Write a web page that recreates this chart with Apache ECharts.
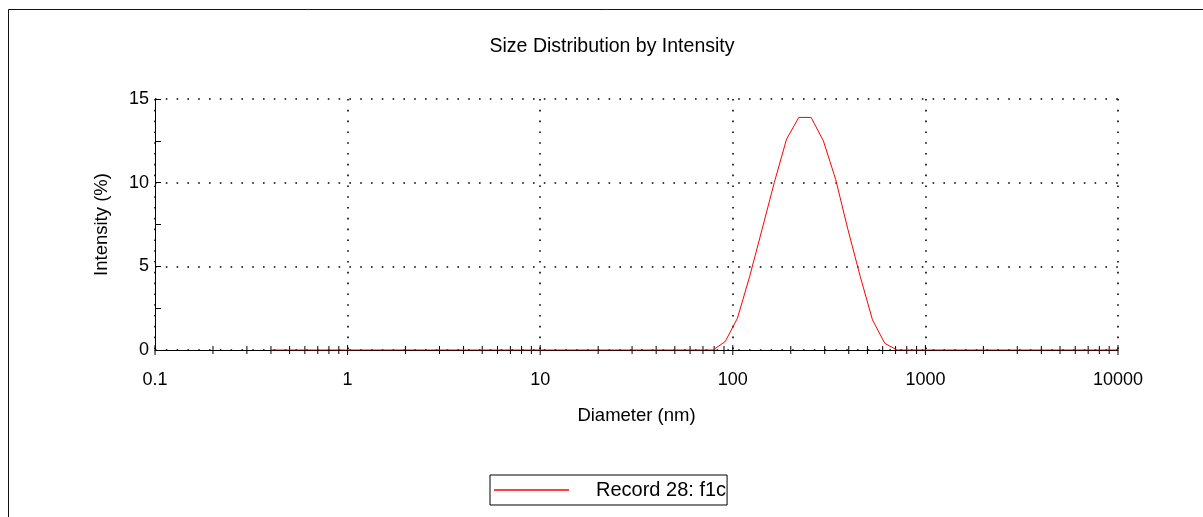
<!DOCTYPE html>
<html>
<head>
<meta charset="utf-8">
<script src="https://cdn.jsdelivr.net/npm/echarts@6/dist/echarts.min.js"></script>
<style>
html,body{margin:0;padding:0;background:#fff;}
#chart{width:1203px;height:517px;}
</style>
</head>
<body>
<div id="chart"></div>
<script>
// ---- data ----
var titleText = 'Size Distribution by Intensity';
var xAxisName = 'Diameter (nm)';
var yAxisName = 'Intensity (%)';
var seriesName = 'Record 28: f1c';
var sizes = [0.4,0.4632,0.5365,0.6213,0.7195,0.8332,0.9649,1.117,1.294,1.499,
  1.736,2.01,2.328,2.696,3.122,3.615,4.187,4.849,5.615,6.503,
  7.531,8.721,10.1,11.7,13.54,15.69,18.17,21.04,24.36,28.21,
  32.67,37.84,43.82,50.75,58.77,68.06,78.82,91.28,105.7,122.4,
  141.8,164.2,190.1,220.2,255.0,295.3,342.0,396.1,458.7,531.2,
  615.1,712.4,825.0,955.4,1106,1281,1484,1718,1990,2305,
  2669,3091,3580,4145,4801,5560,6439,7456,8635,10000];
var intensity = [0,0,0,0,0,0,0,0,0,0,
  0,0,0,0,0,0,0,0,0,0,
  0,0,0,0,0,0,0,0,0,0,
  0,0,0,0,0,0,0,0.5,1.9,4.4,
  7.2,10.0,12.6,13.9,13.9,12.5,10.2,7.2,4.4,1.8,
  0.4,0,0,0,0,0,0,0,0,0,
  0,0,0,0,0,0,0,0,0,0];
var xTickLabels = ['0.1','1','10','100','1000','10000'];
var xMajorTicks = [0.1,1,10,100,1000,10000];
var xMinorMultipliers = [2,3,4,5,6,7,8,9];
var yTickLabels = ['0','5','10','15'];

// ---- build ----
var lineData = sizes.map(function(s,i){return [s, intensity[i]];});
var minorTicks = [];
for (var d = 0; d < xMajorTicks.length - 1; d++) {
  xMinorMultipliers.forEach(function(m){ minorTicks.push([xMajorTicks[d]*m, 0, 4]); });
}
var tickData = minorTicks.concat(xMajorTicks.map(function(v){return [v,0,5];}));

var FONT = 'Liberation Sans, Arial, sans-serif';
var chart = echarts.init(document.getElementById('chart'), null, {renderer:'canvas'});
chart.setOption({
  animation:false,
  backgroundColor:'#fff',
  title:{
    text:titleText, left:607, top:32, textAlign:'center',
    textStyle:{fontFamily:FONT, fontSize:19.5, fontWeight:'normal', color:'#000'}
  },
  grid:{left:155, right:85, top:99, bottom:167, containLabel:false},
  legend:{
    data:[seriesName], left:490, top:475, orient:'horizontal',
    icon:'rect', itemWidth:75, itemHeight:1.5,
    padding:[5,1,5,4], borderColor:'#000', borderWidth:1,
    itemStyle:{color:'#ff0000', borderWidth:0, opacity:1},
    textStyle:{fontFamily:FONT, fontSize:20, color:'#000', padding:[0,0,0,22]}
  },
  xAxis:{
    type:'log', logBase:10, min:0.1, max:10000,
    name:xAxisName, nameLocation:'middle', nameGap:56,
    nameTextStyle:{fontFamily:FONT, fontSize:18.5, color:'#000'},
    axisLine:{show:true, onZero:false, lineStyle:{color:'#000', width:1}},
    axisTick:{show:false},
    axisLabel:{margin:21, fontFamily:FONT, fontSize:18, color:'#000',
      formatter:function(v){ var k=Math.round(Math.log10(v))+1; return xTickLabels[k]!==undefined?xTickLabels[k]:''; }},
    splitLine:{show:true, lineStyle:{color:'#000', width:1.6, type:[1.6,9.2]}}
  },
  yAxis:{
    type:'value', min:0, max:15, interval:5,
    name:yAxisName, nameLocation:'middle', nameGap:44, nameRotate:90,
    nameTextStyle:{fontFamily:FONT, fontSize:18.5, color:'#000'},
    axisLine:{show:true, lineStyle:{color:'#000', width:1}},
    axisTick:{show:true, inside:true, length:6, lineStyle:{color:'#000'}},
    minorTick:{show:true, splitNumber:2, length:6, lineStyle:{color:'#000'}},
    axisLabel:{margin:6, fontFamily:FONT, fontSize:18, color:'#000',
      formatter:function(v){ return yTickLabels[Math.round(v/5)]; }},
    splitLine:{show:true, lineStyle:{color:'#000', width:1.6, type:[1.6,9.2]}}
  },
  graphic:[{
    type:'rect', silent:true, z:-1,
    shape:{x:8.5, y:9.5, width:1300, height:600},
    style:{fill:'none', stroke:'#111', lineWidth:1}
  }],
  series:[{
    name:'xticks', type:'custom', coordinateSystem:'cartesian2d', clip:false,
    silent:true, z:1, data:tickData,
    renderItem:function(params, api){
      var p = api.coord([api.value(0), api.value(1)]);
      var len = api.value(2);
      return {type:'line', shape:{x1:p[0], y1:p[1]-len, x2:p[0], y2:p[1]+len},
        style:{stroke:'#000', lineWidth:1}};
    }
  },{
    name:seriesName, type:'line', data:lineData, showSymbol:false, symbol:'none',
    z:3, lineStyle:{color:'#ff0000', width:1}, itemStyle:{color:'#ff0000'}
  }]
});
</script>
</body>
</html>
